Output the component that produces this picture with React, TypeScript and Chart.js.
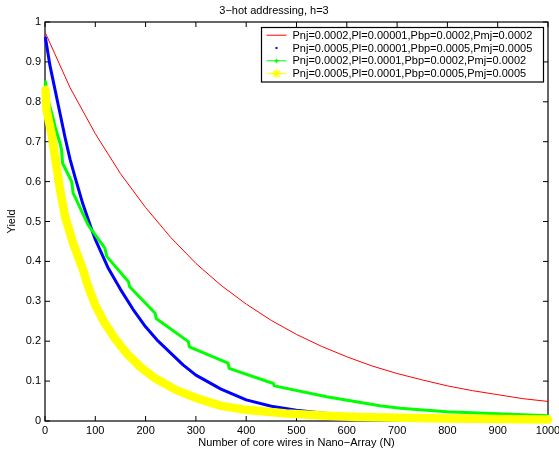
import React, { useEffect, useRef } from 'react';
import { Chart, registerables } from 'chart.js';

Chart.register(...registerables);

// ---------- data ----------
const TITLE = '3−hot addressing, h=3';
const X_TITLE = 'Number of core wires in Nano−Array (N)';
const Y_TITLE = 'Yield';
const X_TICKS = [0, 100, 200, 300, 400, 500, 600, 700, 800, 900, 1000];
const Y_TICKS = [0, 0.1, 0.2, 0.3, 0.4, 0.5, 0.6, 0.7, 0.8, 0.9, 1];
const SERIES_LABELS = [
  'Pnj=0.0002,Pl=0.00001,Pbp=0.0002,Pmj=0.0002',
  'Pnj=0.0005,Pl=0.00001,Pbp=0.0005,Pmj=0.0005',
  'Pnj=0.0002,Pl=0.0001,Pbp=0.0002,Pmj=0.0002',
  'Pnj=0.0005,Pl=0.0001,Pbp=0.0005,Pmj=0.0005',
];

const redN = [1, 50, 100, 150, 200, 250, 300, 350, 400, 450, 500, 550, 600, 650, 700, 750, 800, 850, 900, 950, 1000];
const redY = [0.972, 0.835, 0.72, 0.62, 0.535, 0.46, 0.395, 0.34, 0.293, 0.252, 0.217, 0.187, 0.161, 0.138, 0.119, 0.103, 0.088, 0.076, 0.066, 0.056, 0.049];

const blueN = [1, 10, 20, 30, 40, 50, 60, 75, 90, 100, 125, 150, 175, 200, 225, 250, 275, 300, 350, 400, 450, 500, 550, 600, 650, 700, 800, 900, 1000];
const blueY = [0.96, 0.89, 0.83, 0.77, 0.71, 0.655, 0.61, 0.545, 0.49, 0.455, 0.385, 0.33, 0.28, 0.236, 0.2, 0.17, 0.14, 0.115, 0.08, 0.053, 0.037, 0.027, 0.02, 0.014, 0.01, 0.008, 0.005, 0.003, 0.002];

const greenN = [1, 5, 17, 20, 30, 33, 35, 53, 56, 86, 119, 123, 166, 168, 219, 221, 285, 287, 364, 366, 454, 456, 560, 666, 706, 799, 900, 1000];
const greenY = [0.85, 0.81, 0.754, 0.737, 0.696, 0.679, 0.646, 0.6, 0.571, 0.491, 0.433, 0.412, 0.349, 0.337, 0.27, 0.257, 0.199, 0.186, 0.145, 0.132, 0.094, 0.088, 0.061, 0.038, 0.032, 0.023, 0.018, 0.013];

const yellowN = [1, 3, 13, 20, 30, 40, 56, 76, 85, 100, 119, 140, 162, 190, 219, 260, 302, 350, 400, 480, 560, 620, 706, 800, 900, 1000];
const yellowY = [0.83, 0.78, 0.72, 0.662, 0.579, 0.512, 0.445, 0.378, 0.34, 0.29, 0.245, 0.205, 0.17, 0.135, 0.107, 0.078, 0.057, 0.038, 0.028, 0.019, 0.013, 0.01, 0.008, 0.006, 0.005, 0.004];

// ---------- styles ----------
const COLORS = ['#ff0000', '#0000ff', '#00ff00', '#ffff00'];
const WIDTHS = [1, 3, 3, 8.5];
const MARKERS = ['none', 'dot', 'plus', 'star'];
const FONT = "'Liberation Sans', Arial, Helvetica, sans-serif";

const pts = (xs: number[], ys: number[]) => xs.map((x, i) => ({ x, y: ys[i] }));

function drawStar(ctx: CanvasRenderingContext2D, cx: number, cy: number, r: number) {
  const d = r * 0.7;
  ctx.beginPath();
  ctx.moveTo(cx - r, cy); ctx.lineTo(cx + r, cy);
  ctx.moveTo(cx, cy - r); ctx.lineTo(cx, cy + r);
  ctx.moveTo(cx - d, cy - d); ctx.lineTo(cx + d, cy + d);
  ctx.moveTo(cx - d, cy + d); ctx.lineTo(cx + d, cy - d);
  ctx.stroke();
}

const framePlugin = {
  id: 'matlabFrame',
  beforeDatasetsDraw(chart: any) {
    const { ctx, chartArea: a } = chart;
    const xs = chart.scales.x, ys = chart.scales.y;
    ctx.save();
    ctx.strokeStyle = '#000';
    ctx.lineWidth = 1.2;
    ctx.strokeRect(a.left, a.top, a.right - a.left, a.bottom - a.top);
    ctx.lineWidth = 1;
    ctx.beginPath();
    const tl = 5;
    X_TICKS.forEach((t) => {
      const px = xs.getPixelForValue(t);
      ctx.moveTo(px, a.bottom); ctx.lineTo(px, a.bottom - tl);
      ctx.moveTo(px, a.top); ctx.lineTo(px, a.top + tl);
    });
    Y_TICKS.forEach((t) => {
      const py = ys.getPixelForValue(t);
      ctx.moveTo(a.left, py); ctx.lineTo(a.left + tl, py);
      ctx.moveTo(a.right, py); ctx.lineTo(a.right - tl, py);
    });
    ctx.stroke();
    ctx.restore();
  },
  afterDraw(chart: any) {
    const { ctx, chartArea: a } = chart;
    const bw = 282, bh = 54.5;
    const bx = a.right - 286.5, by = a.top + 5.5;
    ctx.save();
    ctx.fillStyle = '#fff';
    ctx.fillRect(bx, by, bw, bh);
    ctx.strokeStyle = '#000';
    ctx.lineWidth = 1.2;
    ctx.strokeRect(bx, by, bw, bh);
    ctx.font = `11px ${FONT}`;
    ctx.textBaseline = 'middle';
    ctx.textAlign = 'left';
    chart.data.datasets.forEach((ds: any, i: number) => {
      const cy = by + 7.7 + i * 12.8;
      const x0 = bx + 5, x1 = bx + 25, cx = bx + 15;
      const col = COLORS[i];
      ctx.strokeStyle = col;
      ctx.fillStyle = col;
      ctx.lineWidth = 1;
      if (MARKERS[i] !== 'dot') {
        ctx.beginPath();
        ctx.moveTo(x0, cy); ctx.lineTo(x1, cy);
        ctx.stroke();
      }
      if (MARKERS[i] === 'dot') {
        ctx.fillRect(cx - 1, cy - 1, 2, 2);
      } else if (MARKERS[i] === 'plus') {
        ctx.beginPath();
        ctx.moveTo(cx - 2, cy); ctx.lineTo(cx + 2, cy);
        ctx.moveTo(cx, cy - 2); ctx.lineTo(cx, cy + 2);
        ctx.lineWidth = 1.5;
        ctx.stroke();
      } else if (MARKERS[i] === 'star') {
        ctx.lineWidth = 1.5;
        drawStar(ctx, cx, cy, 4.5);
      }
      ctx.fillStyle = '#000';
      ctx.fillText(ds.label, bx + 31, cy + 0.5);
    });
    ctx.restore();
  },
};

export default function App() {
  const ref = useRef<HTMLCanvasElement | null>(null);
  useEffect(() => {
    if (!ref.current) return;
    Chart.defaults.font.family = FONT;
    Chart.defaults.color = '#000';
    const series = [pts(redN, redY), pts(blueN, blueY), pts(greenN, greenY), pts(yellowN, yellowY)];
    const chart = new Chart(ref.current, {
      type: 'line',
      data: {
        datasets: series.map((d, i) => ({
          label: SERIES_LABELS[i],
          data: d,
          borderColor: COLORS[i],
          backgroundColor: COLORS[i],
          borderWidth: WIDTHS[i],
          pointRadius: 0,
          tension: 0,
          fill: false,
          borderJoinStyle: 'round',
          borderCapStyle: 'round',
          order: 4 - i,
          clip: false,
        })) as any,
      },
      options: {
        animation: false,
        responsive: false,
        devicePixelRatio: 1,
        layout: { padding: { left: 0, right: 11, top: 0, bottom: 0 } },
        plugins: {
          legend: { display: false },
          tooltip: { enabled: false },
          title: {
            display: true,
            text: TITLE,
            color: '#000',
            font: { size: 11, weight: 'normal', family: FONT, lineHeight: 1.2 },
            padding: { top: 4, bottom: 4.8 },
          },
        },
        scales: {
          x: {
            type: 'linear',
            min: 0,
            max: 1000,
            afterBuildTicks: (s: any) => { s.ticks = X_TICKS.map((v) => ({ value: v })); },
            afterFit: (s: any) => { s.paddingRight = 0; s.paddingLeft = 0; s.height = 33; },
            grid: { display: false, drawTicks: false },
            border: { display: false },
            ticks: {
              padding: 4,
              color: '#000',
              font: { size: 11, lineHeight: 1, family: FONT },
              maxRotation: 0,
              autoSkip: false,
              callback: (v: any) => String(v),
            },
            title: {
              display: true,
              text: X_TITLE,
              color: '#000',
              font: { size: 11, lineHeight: 1, family: FONT },
              padding: { top: 1, bottom: 6 },
            },
          },
          y: {
            type: 'linear',
            min: 0,
            max: 1,
            afterBuildTicks: (s: any) => { s.ticks = Y_TICKS.map((v) => ({ value: v })); },
            afterFit: (s: any) => { s.paddingTop = 0; s.paddingBottom = 0; s.width = 45; },
            grid: { display: false, drawTicks: false },
            border: { display: false },
            ticks: {
              padding: 4,
              color: '#000',
              font: { size: 11, lineHeight: 1, family: FONT },
              autoSkip: false,
              callback: (v: any) => String(Math.round(v * 10) / 10),
            },
            title: {
              display: true,
              text: Y_TITLE,
              color: '#000',
              font: { size: 11, lineHeight: 1, family: FONT },
              padding: { top: 6.5, bottom: 4 },
            },
          },
        },
      },
      plugins: [framePlugin],
    });
    return () => chart.destroy();
  }, []);
  return (
    <div style={{ position: 'absolute', left: 0, top: 0, width: 559, height: 454, background: '#fff' }}>
      <canvas ref={ref} width={559} height={454} style={{ display: 'block', width: 559, height: 454 }} />
    </div>
  );
}
